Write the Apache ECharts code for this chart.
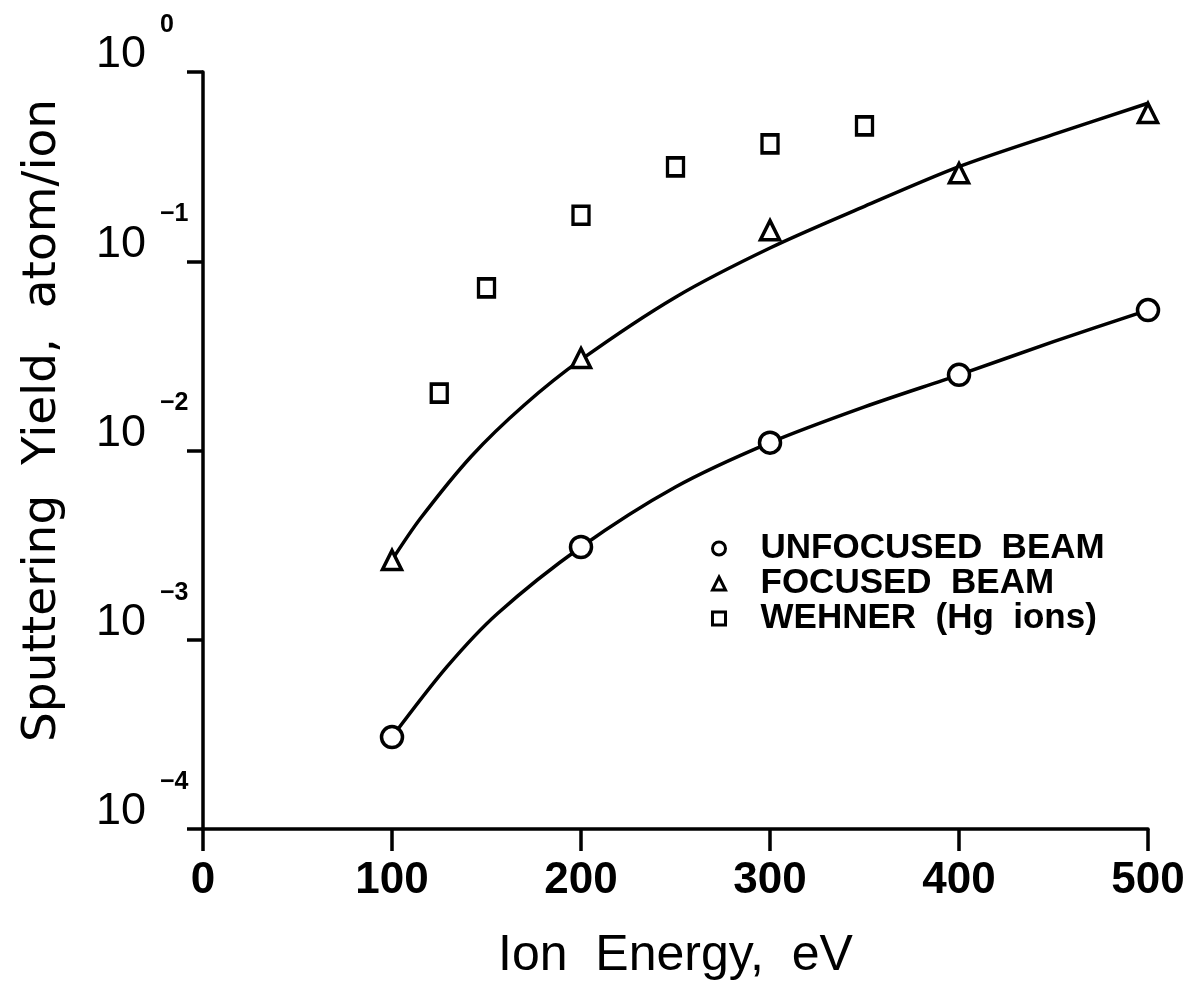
<!DOCTYPE html>
<html>
<head>
<meta charset="utf-8">
<title>Sputtering Yield vs Ion Energy</title>
<script src="https://cdn.jsdelivr.net/npm/echarts@6/dist/echarts.min.js"></script>
<style>
  html, body { margin: 0; padding: 0; background: #fff; }
  #chart { width: 1198px; height: 994px; }
</style>
</head>
<body>
<div id="chart"></div>
<script>
const unfocusedX = [100, 200, 300, 400, 500]
const unfocusedY = [3.06e-4, 3.09e-3, 1.10e-2, 2.51e-2, 5.52e-2]

const focusedX = [100, 200, 300, 400, 500]
const focusedY = [2.64e-3, 3.08e-2, 0.146, 0.292, 0.607]

const wehnerX = [125, 150, 200, 250, 300, 350]
const wehnerY = [0.0201, 0.0723, 0.175, 0.315, 0.417, 0.519]

// fitted curves, sampled along the drawn lines
const upperCurveX = [100, 115, 142, 170, 200, 250, 300, 350, 400, 450, 500]
const upperCurveY = [2.64e-3, 4.37e-3, 9.33e-3, 1.74e-2, 3.02e-2, 6.46e-2, 0.1175, 0.195, 0.316, 0.468, 0.684]

const lowerCurveX = [100, 129, 156, 200, 250, 300, 350, 400, 450, 500]
const lowerCurveY = [3.06e-4, 7.18e-4, 1.38e-3, 3.09e-3, 6.41e-3, 1.10e-2, 1.70e-2, 2.51e-2, 3.76e-2, 5.52e-2]

const xTicks = [0, 100, 200, 300, 400, 500]

const seriesNames = ['UNFOCUSED  BEAM', 'FOCUSED  BEAM', 'WEHNER  (Hg  ions)']

const FONT = 'Liberation Sans'

function zip(xs, ys) {
  return xs.map((x, i) => [x, ys[i]])
}

const chart = echarts.init(document.getElementById('chart'))

const markerStyle = { color: '#fff', borderColor: '#000', borderWidth: 3.5, opacity: 1 }

function fitLine(name, xs, ys) {
  return {
    name,
    type: 'line',
    data: zip(xs, ys),
    smooth: 0.3,
    showSymbol: false,
    symbol: 'none',
    lineStyle: { color: '#000', width: 3.5 },
    z: 2
  }
}

chart.setOption({
  animation: false,
  backgroundColor: '#fff',
  grid: { left: 203, right: 50, top: 72, bottom: 165, containLabel: false },
  legend: {
    orient: 'vertical',
    left: 711,
    top: 531,
    padding: 0,
    itemGap: 0,
    itemWidth: 13,
    itemHeight: 13,
    selectedMode: false,
    data: seriesNames,
    itemStyle: { borderWidth: 3, borderColor: '#000', color: '#fff', opacity: 1 },
    textStyle: {
      fontFamily: FONT,
      fontSize: 35,
      fontWeight: 'bold',
      color: '#000',
      lineHeight: 32,
      padding: [0, 0, 0, 30]
    }
  },
  xAxis: {
    type: 'value',
    min: xTicks[0],
    max: xTicks[xTicks.length - 1],
    interval: 100,
    name: 'Ion  Energy,  eV',
    nameLocation: 'middle',
    nameGap: 102,
    nameTextStyle: { fontFamily: FONT, fontSize: 50, color: '#000' },
    axisLine: { show: true, lineStyle: { color: '#000', width: 3.5 } },
    axisTick: { show: true, length: 22, inside: false, lineStyle: { color: '#000', width: 3.5 } },
    axisLabel: { fontFamily: FONT, fontSize: 44, fontWeight: 'bold', color: '#000', margin: 30 },
    splitLine: { show: false }
  },
  yAxis: {
    type: 'log',
    logBase: 10,
    min: 1e-4,
    max: 1,
    name: 'Sputtering  Yield,  atom/ion',
    nameLocation: 'middle',
    nameGap: 137,
    nameRotate: 90,
    nameTextStyle: { fontFamily: 'DejaVu Sans', fontSize: 47, color: '#000', padding: [0, 0, 0, 60] },
    axisLine: { show: true, lineStyle: { color: '#000', width: 3.5 } },
    axisTick: { show: true, length: 16, inside: false, lineStyle: { color: '#000', width: 3.5 } },
    axisLabel: {
      margin: 107,
      align: 'left',
      verticalAlign: 'bottom',
      // exponent on its own line above and to the right of the "10"
      formatter: (v) => {
        const e = Math.round(Math.log10(v))
        return '{s|' + (e === 0 ? '0' : '\u2212' + (-e)) + '}\n{b|10}'
      },
      rich: {
        b: { fontFamily: FONT, fontSize: 45, color: '#000', lineHeight: 34 },
        s: { fontFamily: FONT, fontSize: 25, fontWeight: 'bold', color: '#000', lineHeight: 26, padding: [0, 0, 0, 64] }
      }
    },
    splitLine: { show: false }
  },
  series: [
    fitLine('upper-fit', upperCurveX, upperCurveY),
    fitLine('lower-fit', lowerCurveX, lowerCurveY),
    {
      name: seriesNames[0],
      type: 'scatter',
      symbol: 'circle',
      symbolSize: 21,
      data: zip(unfocusedX, unfocusedY),
      itemStyle: markerStyle,
      z: 3
    },
    {
      name: seriesNames[1],
      type: 'scatter',
      symbol: 'triangle',
      symbolSize: 19,
      data: zip(focusedX, focusedY),
      itemStyle: markerStyle,
      z: 3
    },
    {
      name: seriesNames[2],
      type: 'scatter',
      symbol: 'rect',
      symbolSize: [16, 18],
      data: zip(wehnerX, wehnerY),
      itemStyle: markerStyle,
      z: 3
    }
  ]
})
</script>
</body>
</html>
